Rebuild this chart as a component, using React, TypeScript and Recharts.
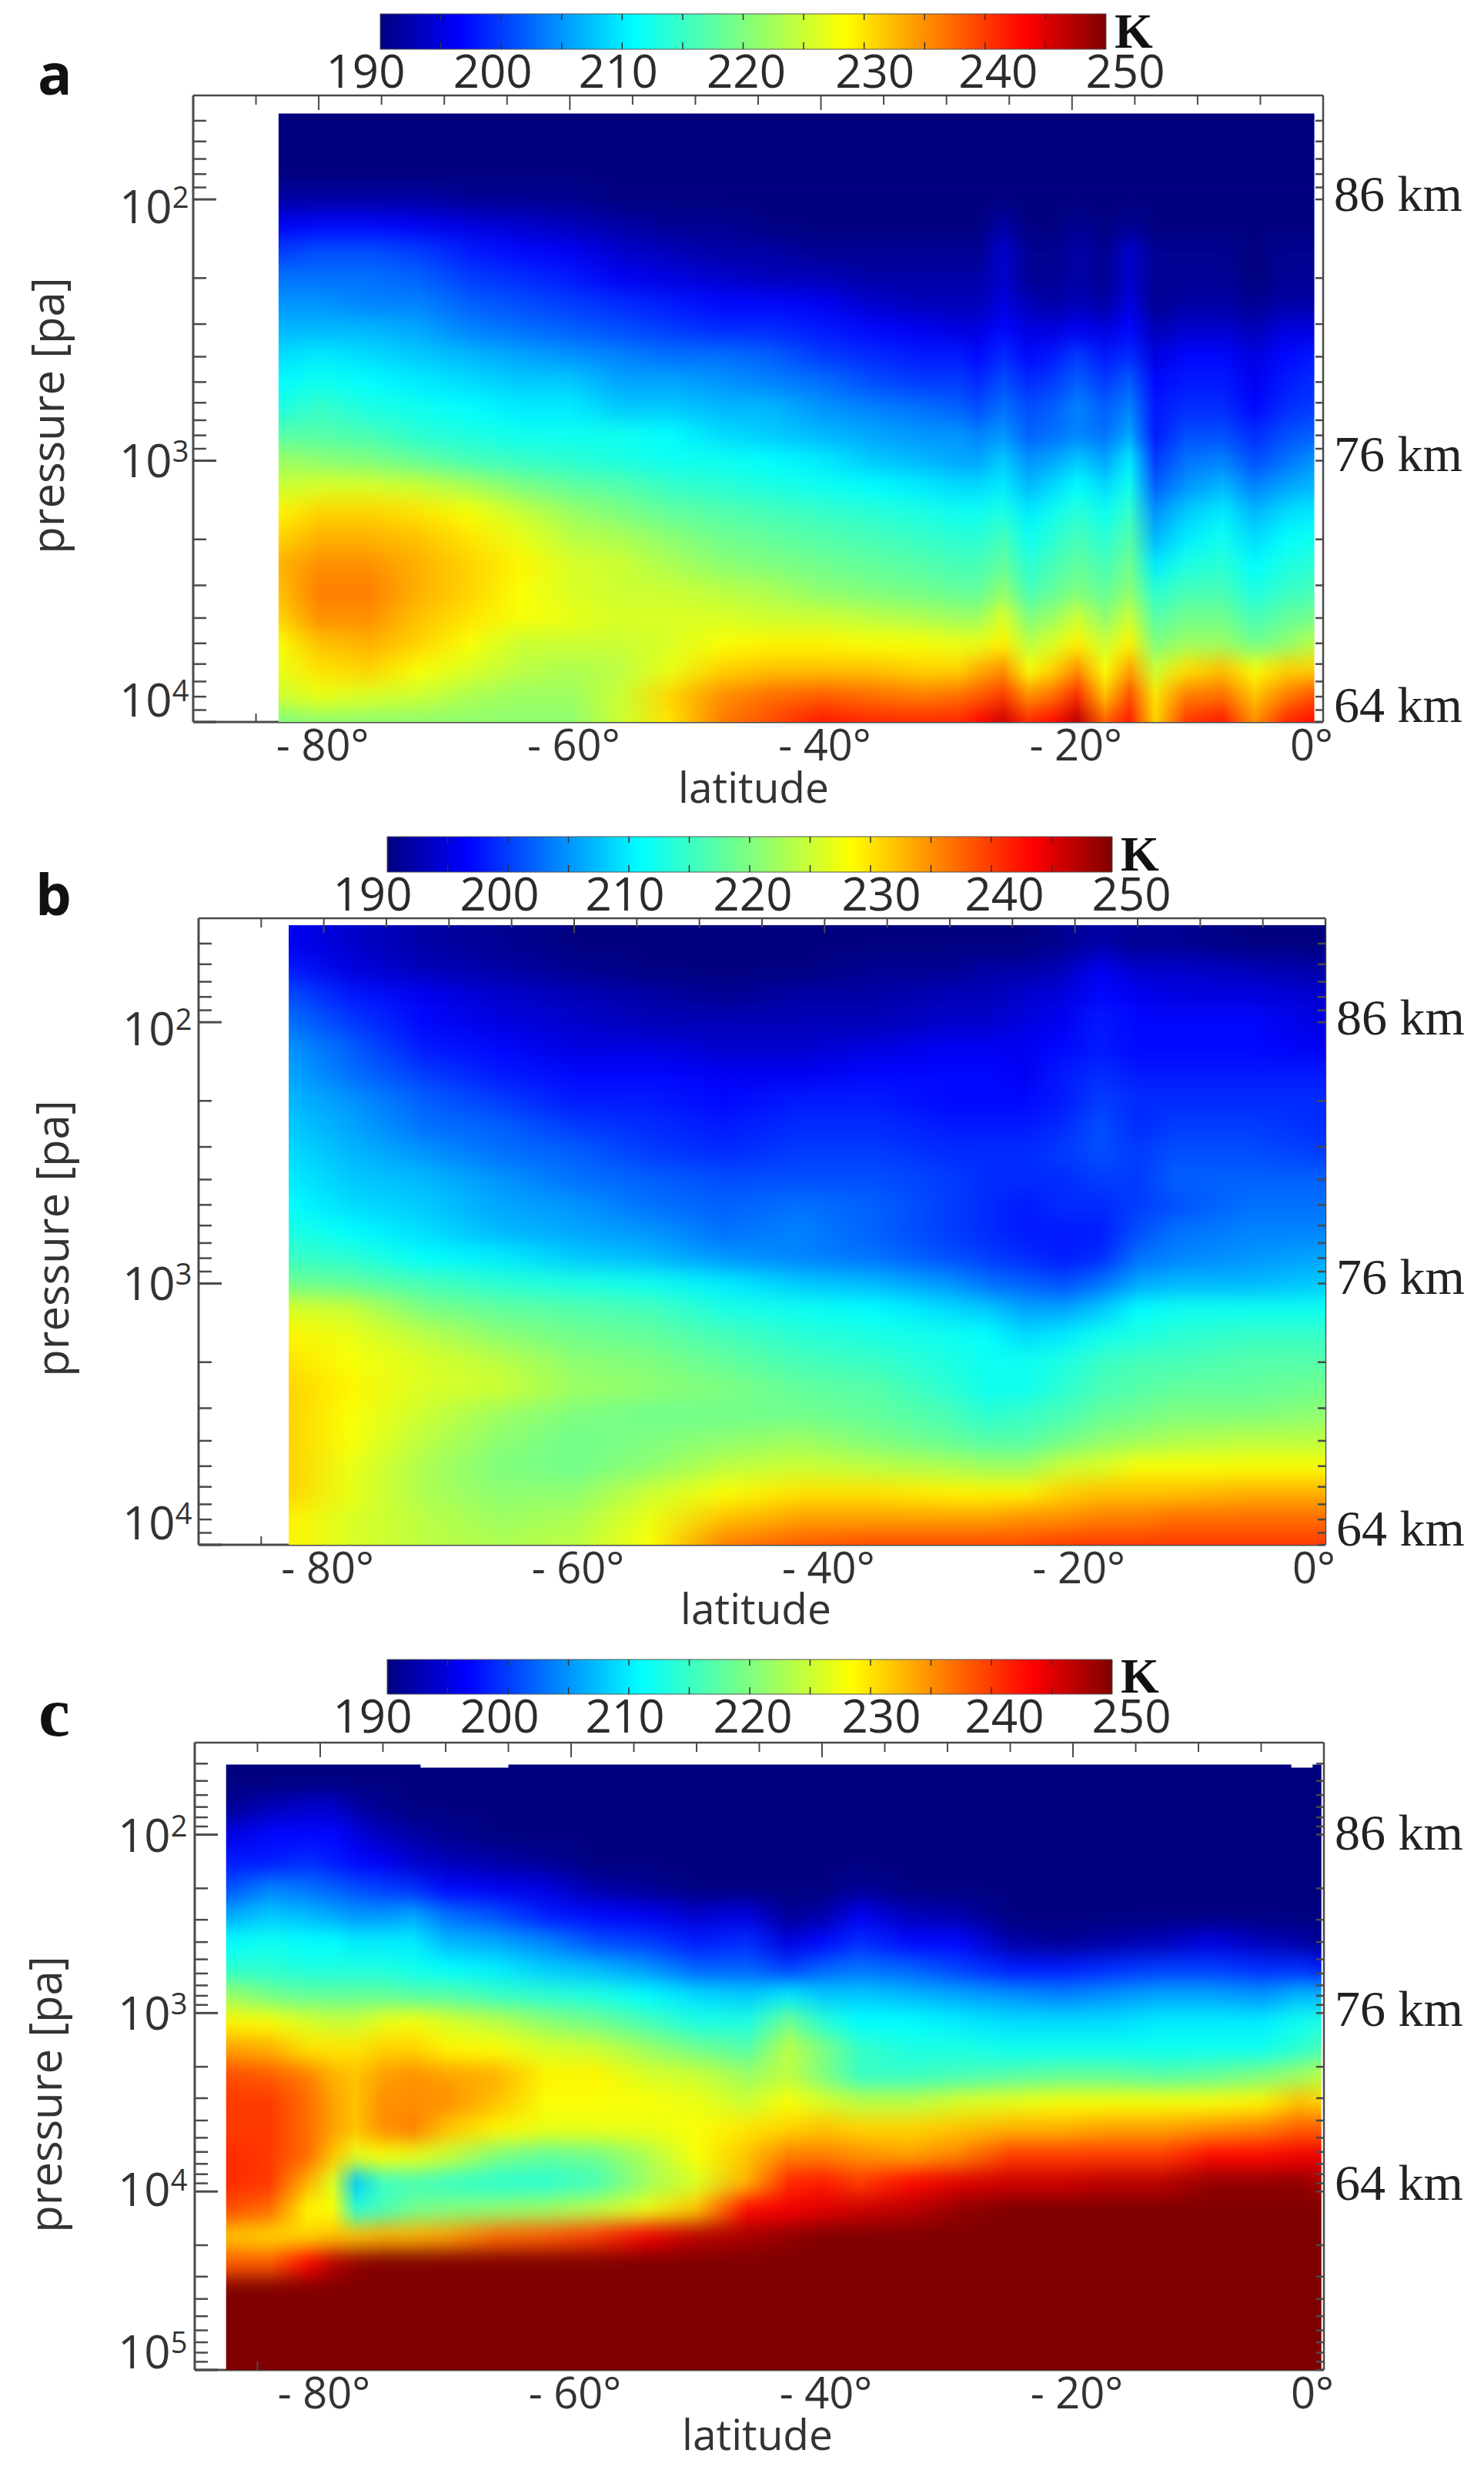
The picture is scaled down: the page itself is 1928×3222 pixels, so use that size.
import { ComposedChart, ReferenceArea, Scatter, ScatterChart, XAxis, YAxis } from "recharts";

// ---------------------------------------------------------------------------
// Data: temperature in K, rows by pressure, cols by latitude
// ---------------------------------------------------------------------------

const PRESSURE_ROWS_AB = [50, 63, 79, 100, 126, 158, 200, 251, 316, 398, 501, 631, 794, 1000, 1259, 1585, 1995, 2512, 3162, 3981, 5012, 6310, 7943, 10000];
const PRESSURE_ROWS_C = [50, 71, 100, 141, 200, 282, 398, 562, 794, 1122, 1585, 2239, 3162, 4467, 6310, 8913, 12589, 17783, 25119, 35481, 50119, 70795, 100000];

const LATS_A = [-83.2, -80, -76, -72, -68, -64, -60, -56, -52, -48, -44, -40, -36, -32, -29, -27.5, -25.5, -23.5, -21.5, -19.6, -17.4, -15.4, -13.4, -11, -8, -5.5, -3, -0.7];
const TEMPS_A = [
  [190, 190, 190, 190, 190, 190, 190, 190, 190, 190, 190, 190, 190, 190, 190, 190, 190, 190, 190, 190, 190, 190, 190, 190, 190, 190, 190, 190],
  [190, 190, 190, 190, 190, 190, 190, 190, 190, 190, 190, 190, 190, 190, 190, 190, 190, 190, 190, 190, 190, 190, 190, 190, 190, 190, 190, 190],
  [190, 190, 190, 190, 190, 190, 190, 190, 190, 190, 190, 190, 190, 190, 190, 190, 190, 190, 190, 190, 190, 190, 190, 190, 190, 190, 190, 190],
  [192, 192, 192, 192, 191, 191, 191, 190, 190, 190, 190, 190, 190, 190, 190, 190, 190, 190, 190, 190, 190, 190, 190, 190, 190, 190, 190, 190],
  [196, 197, 197, 196, 195, 194, 193, 192, 191, 191, 190, 190, 190, 190, 190, 190, 192, 190, 190, 191, 190, 191, 190, 190, 190, 190, 190, 190],
  [200, 201, 201, 200, 198, 197, 196, 194, 193, 192, 192, 191, 191, 191, 191, 191, 194, 191, 191, 192, 191, 194, 191, 191, 191, 190, 191, 191],
  [203, 203, 203, 202, 200, 199, 198, 196, 195, 194, 193, 193, 192, 192, 192, 192, 194, 191, 191, 192, 191, 194, 191, 191, 191, 190, 191, 191],
  [205, 205, 204, 204, 202, 201, 200, 199, 198, 197, 197, 196, 194, 193, 193, 193, 195, 193, 192, 193, 192, 195, 191, 192, 192, 191, 192, 192],
  [207, 207, 207, 206, 204, 203, 202, 201, 200, 199, 199, 198, 197, 196, 195, 195, 197, 195, 195, 196, 195, 197, 193, 194, 194, 193, 195, 195],
  [209, 210, 209, 208, 207, 206, 205, 204, 203, 203, 202, 200, 199, 198, 198, 197, 199, 197, 198, 200, 198, 199, 195, 197, 197, 195, 197, 198],
  [211, 212, 211, 210, 209, 208, 208, 206, 206, 205, 204, 203, 201, 200, 200, 199, 201, 199, 200, 202, 200, 202, 197, 198, 198, 196, 198, 199],
  [213, 215, 213, 212, 211, 210, 210, 208, 208, 207, 207, 205, 204, 203, 202, 201, 203, 201, 202, 204, 202, 204, 198, 199, 199, 197, 199, 200],
  [217, 217, 216, 214, 213, 212, 212, 212, 211, 209, 208, 207, 206, 205, 205, 204, 205, 202, 203, 204, 203, 206, 198, 201, 201, 199, 201, 202],
  [222, 221, 220, 218, 216, 215, 214, 213, 212, 212, 211, 210, 208, 207, 206, 206, 208, 205, 206, 208, 206, 210, 200, 203, 204, 201, 203, 205],
  [225, 226, 226, 225, 223, 220, 218, 217, 215, 214, 213, 212, 211, 210, 209, 209, 210, 207, 209, 211, 209, 212, 202, 205, 207, 204, 206, 207],
  [229, 231, 231, 230, 228, 225, 222, 220, 218, 217, 216, 215, 214, 213, 212, 212, 213, 210, 212, 214, 212, 215, 205, 208, 210, 207, 209, 210],
  [231, 233, 233, 232, 230, 227, 224, 223, 221, 219, 218, 217, 216, 215, 214, 214, 216, 212, 214, 216, 214, 217, 207, 210, 212, 209, 211, 212],
  [233, 235, 235, 233, 231, 229, 226, 225, 223, 221, 220, 219, 218, 217, 216, 216, 218, 214, 216, 218, 216, 219, 210, 213, 214, 211, 213, 214],
  [232, 236, 236, 233, 231, 228, 226, 225, 225, 224, 223, 221, 220, 219, 218, 218, 221, 216, 218, 220, 218, 221, 214, 216, 216, 213, 215, 216],
  [231, 235, 235, 232, 230, 228, 227, 226, 226, 226, 225, 225, 224, 223, 222, 222, 226, 220, 222, 225, 221, 225, 217, 219, 219, 216, 218, 219],
  [228, 232, 233, 231, 228, 225, 225, 225, 226, 228, 229, 229, 228, 228, 227, 227, 229, 224, 226, 229, 225, 229, 220, 222, 222, 219, 221, 224],
  [227, 230, 231, 228, 226, 224, 223, 224, 227, 231, 232, 232, 232, 231, 231, 233, 235, 228, 231, 235, 228, 234, 225, 230, 232, 228, 231, 231],
  [225, 227, 226, 225, 223, 222, 222, 225, 231, 235, 237, 238, 237, 236, 237, 238, 240, 235, 237, 241, 232, 239, 230, 236, 237, 232, 236, 239],
  [220, 221, 221, 221, 221, 221, 221, 225, 230, 236, 239, 242, 241, 241, 241, 243, 246, 241, 243, 247, 238, 242, 231, 240, 242, 235, 241, 243],
];

const LATS_B = [-82.8, -78, -72, -66, -60, -54, -48, -42, -36, -30, -27, -24, -21, -18, -15, -12, -6, 0];
const TEMPS_B = [
  [196, 194, 192, 191, 190, 190, 190, 190, 190, 190, 190, 190, 191, 192, 191, 191, 190, 190],
  [198, 195, 193, 192, 191, 190, 190, 190, 191, 191, 192, 192, 193, 196, 194, 194, 193, 192],
  [201, 198, 196, 194, 193, 192, 191, 192, 192, 193, 193, 194, 195, 197, 196, 195, 195, 194],
  [203, 200, 197, 195, 194, 193, 193, 193, 193, 194, 194, 195, 196, 198, 197, 197, 197, 195],
  [205, 202, 198, 197, 195, 195, 194, 194, 195, 196, 196, 196, 197, 198, 197, 197, 197, 196],
  [206, 203, 200, 198, 197, 197, 196, 196, 197, 197, 197, 196, 198, 199, 198, 198, 198, 198],
  [207, 205, 202, 200, 198, 198, 197, 198, 198, 197, 197, 197, 198, 200, 199, 199, 199, 199],
  [208, 206, 203, 202, 200, 199, 198, 199, 199, 198, 198, 198, 199, 201, 199, 200, 200, 199],
  [209, 207, 205, 203, 202, 200, 199, 200, 200, 199, 199, 199, 200, 201, 200, 201, 201, 200],
  [210, 208, 207, 205, 203, 202, 201, 201, 201, 200, 199, 199, 199, 200, 200, 202, 202, 202],
  [211, 209, 208, 206, 205, 203, 202, 203, 202, 200, 199, 198, 199, 199, 200, 201, 203, 203],
  [213, 211, 209, 207, 206, 205, 203, 204, 202, 200, 199, 198, 198, 198, 201, 203, 204, 204],
  [215, 214, 211, 210, 208, 207, 205, 204, 203, 201, 200, 199, 198, 199, 203, 204, 205, 206],
  [219, 218, 216, 214, 213, 212, 210, 208, 207, 205, 203, 202, 201, 203, 206, 207, 207, 208],
  [226, 225, 220, 218, 217, 216, 213, 212, 211, 209, 208, 206, 206, 208, 211, 212, 212, 212],
  [229, 227, 224, 221, 219, 218, 216, 214, 213, 212, 211, 209, 210, 212, 213, 214, 215, 215],
  [230, 228, 226, 224, 221, 220, 218, 216, 215, 213, 212, 212, 213, 215, 216, 216, 217, 217],
  [231, 229, 226, 225, 222, 221, 220, 218, 217, 214, 212, 212, 214, 216, 217, 218, 218, 219],
  [231, 228, 225, 222, 220, 219, 219, 219, 218, 216, 214, 215, 216, 218, 219, 220, 220, 221],
  [231, 228, 224, 221, 219, 220, 221, 222, 220, 218, 217, 217, 219, 221, 222, 223, 224, 224],
  [231, 227, 223, 220, 219, 221, 224, 225, 224, 223, 222, 222, 225, 226, 228, 228, 228, 228],
  [231, 227, 223, 221, 221, 225, 228, 230, 230, 229, 229, 229, 231, 232, 232, 232, 233, 233],
  [229, 226, 224, 222, 223, 227, 232, 234, 234, 234, 234, 235, 235, 236, 236, 237, 237, 237],
  [229, 226, 224, 223, 224, 228, 236, 238, 239, 239, 239, 239, 240, 240, 240, 240, 240, 240],
];

const LATS_C = [-87.5, -84, -81, -79, -77.2, -75, -72.6, -70, -66, -62, -58, -54, -50, -46, -42.7, -40, -37, -33, -29, -25, -21, -17, -13, -9, -5, -2, -0.2];
const TEMPS_C = [
  [190, 190, 190, 190, 190, 190, 190, 190, 190, 190, 190, 190, 190, 190, 190, 190, 190, 190, 190, 190, 190, 190, 190, 190, 190, 190, 190],
  [191, 193, 194, 194, 192, 191, 190, 190, 190, 190, 190, 190, 190, 190, 190, 190, 190, 190, 190, 190, 190, 190, 190, 190, 190, 190, 190],
  [195, 197, 197, 197, 195, 193, 192, 191, 190, 190, 190, 190, 190, 190, 190, 190, 190, 190, 190, 190, 190, 190, 190, 190, 190, 190, 190],
  [198, 198, 199, 198, 197, 196, 194, 193, 192, 191, 190, 190, 190, 190, 190, 190, 190, 190, 190, 190, 190, 190, 190, 190, 190, 190, 190],
  [201, 204, 203, 202, 201, 200, 199, 197, 196, 195, 192, 191, 190, 190, 190, 190, 191, 190, 190, 190, 190, 190, 190, 190, 190, 190, 190],
  [206, 208, 207, 206, 205, 205, 206, 203, 201, 198, 197, 196, 194, 195, 191, 192, 196, 193, 192, 190, 190, 190, 190, 190, 190, 190, 190],
  [211, 212, 211, 211, 210, 210, 210, 207, 206, 204, 201, 200, 198, 199, 195, 197, 199, 197, 197, 192, 191, 192, 193, 195, 193, 192, 191],
  [214, 214, 213, 213, 213, 213, 212, 211, 210, 208, 207, 205, 202, 202, 200, 202, 203, 202, 200, 198, 198, 199, 200, 200, 199, 199, 198],
  [222, 219, 218, 218, 218, 218, 217, 217, 215, 214, 213, 211, 209, 208, 210, 208, 208, 207, 206, 205, 204, 205, 206, 206, 205, 207, 207],
  [229, 228, 226, 225, 225, 227, 228, 226, 224, 221, 219, 216, 213, 213, 219, 214, 211, 211, 210, 209, 209, 209, 210, 210, 210, 212, 213],
  [234, 233, 230, 230, 230, 231, 231, 229, 228, 226, 225, 222, 219, 217, 224, 220, 215, 213, 213, 212, 212, 212, 212, 212, 212, 214, 216],
  [239, 238, 236, 233, 232, 234, 235, 234, 233, 229, 229, 226, 225, 222, 224, 220, 215, 215, 216, 217, 218, 218, 217, 218, 220, 222, 224],
  [240, 240, 237, 234, 232, 235, 235, 235, 232, 228, 228, 228, 227, 225, 228, 226, 224, 224, 226, 227, 228, 228, 228, 228, 229, 232, 231],
  [240, 240, 237, 234, 232, 235, 236, 232, 229, 227, 227, 227, 228, 230, 231, 232, 231, 231, 232, 233, 233, 234, 234, 235, 236, 238, 238],
  [241, 240, 237, 232, 227, 228, 227, 225, 220, 218, 219, 223, 228, 232, 236, 236, 235, 234, 236, 240, 240, 240, 240, 243, 243, 244, 244],
  [241, 240, 233, 226, 208, 215, 216, 215, 214, 214, 216, 222, 226, 233, 241, 242, 240, 243, 245, 246, 246, 247, 247, 249, 249, 249, 248],
  [239, 237, 229, 228, 214, 216, 219, 220, 221, 222, 224, 227, 232, 243, 244, 245, 246, 247, 249, 250, 250, 250, 250, 250, 250, 250, 250],
  [232, 231, 231, 232, 232, 233, 233, 234, 237, 238, 240, 244, 247, 248, 249, 250, 250, 250, 250, 250, 250, 250, 250, 250, 250, 250, 250],
  [238, 238, 243, 247, 249, 250, 250, 250, 250, 250, 250, 250, 250, 250, 250, 250, 250, 250, 250, 250, 250, 250, 250, 250, 250, 250, 250],
  [250, 250, 250, 250, 250, 250, 250, 250, 250, 250, 250, 250, 250, 250, 250, 250, 250, 250, 250, 250, 250, 250, 250, 250, 250, 250, 250],
  [250, 250, 250, 250, 250, 250, 250, 250, 250, 250, 250, 250, 250, 250, 250, 250, 250, 250, 250, 250, 250, 250, 250, 250, 250, 250, 250],
  [250, 250, 250, 250, 250, 250, 250, 250, 250, 250, 250, 250, 250, 250, 250, 250, 250, 250, 250, 250, 250, 250, 250, 250, 250, 250, 250],
  [250, 250, 250, 250, 250, 250, 250, 250, 250, 250, 250, 250, 250, 250, 250, 250, 250, 250, 250, 250, 250, 250, 250, 250, 250, 250, 250],
];

const PRESSURE_TICKS_AB = [50, 60, 70, 80, 90, 100, 200, 300, 400, 500, 600, 700, 800, 900, 1000, 2000, 3000, 4000, 5000, 6000, 7000, 8000, 9000, 10000];
const PRESSURE_TICKS_C = [40, 50, 60, 70, 80, 90, 100, 200, 300, 400, 500, 600, 700, 800, 900, 1000, 2000, 3000, 4000, 5000, 6000, 7000, 8000, 9000, 10000, 20000, 30000, 40000, 50000, 60000, 70000, 80000, 90000, 100000];
const LAT_TICKS_TOP = [-85, -80, -75, -70, -65, -60, -55, -50, -45, -40, -35, -30, -25, -20, -15, -10, -5];
const LAT_TICKS_BOTTOM = [-85, -80, -60, -40, -20, 0];
const BAR_TICKS = [190, 195, 200, 205, 210, 215, 220, 225, 230, 235, 240, 245, 250];
const KM_LABELS = ["86 km", "76 km", "64 km"];

// ---------------------------------------------------------------------------
// Colour map
// ---------------------------------------------------------------------------

const JET_STOPS: [number, number[]][] = [
  [0, [0, 0, 127]],
  [0.11, [0, 0, 255]],
  [0.35, [0, 255, 255]],
  [0.5, [127, 255, 127]],
  [0.64, [255, 255, 0]],
  [0.89, [255, 0, 0]],
  [1, [127, 0, 0]],
];

function jet(temp: number) {
  const f = Math.min(1, Math.max(0, (temp - 190) / 60));
  for (let i = 1; i < JET_STOPS.length; i++) {
    const [f1, c1] = JET_STOPS[i];
    const [f0, c0] = JET_STOPS[i - 1];
    if (f <= f1) {
      const k = (f - f0) / (f1 - f0);
      const c = c0.map((v, n) => Math.round(v + (c1[n] - v) * k));
      return `rgb(${c[0]},${c[1]},${c[2]})`;
    }
  }
  return "rgb(127,0,0)";
}

// ---------------------------------------------------------------------------
// Panel layout (page pixels)
// ---------------------------------------------------------------------------

const SANS = "'Open Sans', sans-serif";
const SERIF = "'Liberation Serif', serif";
const INK = "#333";
const AXIS = "#4a4a4a";

const PANELS = [
  {
    id: "a",
    lats: LATS_A,
    temps: TEMPS_A,
    rows: PRESSURE_ROWS_AB,
    rowDecades: 0.1,
    ticks: PRESSURE_TICKS_AB,
    pDomain: [40, 10000],
    pTop: 46.9,
    notches: [] as number[][],
    frame: { left: 251, right: 1719, top: 124, bottom: 938 },
    bar: { left: 494, right: 1437, top: 18, bottom: 64 },
    kmTicks: [96, 950, 8673],
    majors: { 100: 9, 1000: -1, 10000: -29 } as Record<number, number>,
    exponentLeft: 155,
    letter: { text: "a", x: 49, y: 123, size: 74, font: SANS },
    pressureLabel: { x: 83, y: 540 },
    latitudeLabel: { x: 979, y: 1043 },
  },
  {
    id: "b",
    lats: LATS_B,
    temps: TEMPS_B,
    rows: PRESSURE_ROWS_AB,
    rowDecades: 0.1,
    ticks: PRESSURE_TICKS_AB,
    pDomain: [40, 10000],
    pTop: 42.5,
    notches: [] as number[][],
    frame: { left: 258, right: 1722, top: 1193, bottom: 2007 },
    bar: { left: 503, right: 1445, top: 1087, bottom: 1133 },
    kmTicks: [96.3, 951, 8730],
    majors: { 100: 8, 1000: -1, 10000: -29 } as Record<number, number>,
    exponentLeft: 159,
    letter: { text: "b", x: 46, y: 1189, size: 74, font: SANS },
    pressureLabel: { x: 89, y: 1609 },
    latitudeLabel: { x: 982, y: 2110 },
  },
  {
    id: "c",
    lats: LATS_C,
    temps: TEMPS_C,
    rows: PRESSURE_ROWS_C,
    rowDecades: 0.15,
    ticks: PRESSURE_TICKS_C,
    pDomain: [30.5, 100000],
    pTop: 40.5,
    notches: [[-72, -65], [-2.6, -0.9]],
    frame: { left: 253, right: 1720, top: 2264, bottom: 3079 },
    bar: { left: 503, right: 1445, top: 2156, bottom: 2201 },
    kmTicks: [98.5, 957, 9036],
    majors: { 100: 0, 1000: 0, 10000: -3, 100000: -24 } as Record<number, number>,
    exponentLeft: 153,
    letter: { text: "c", x: 50, y: 2255, size: 92, font: SERIF },
    pressureLabel: { x: 80, y: 2721 },
    latitudeLabel: { x: 984, y: 3183 },
  },
];

type Panel = (typeof PANELS)[number];

// ---------------------------------------------------------------------------
// Heat map
// ---------------------------------------------------------------------------

function heatData(panel: Panel) {
  return panel.temps.flatMap((row, r) =>
    row.map((t, c) => ({
      lat: panel.lats[c],
      latNext: panel.lats[c + 1],
      p: panel.rows[r],
      t,
      tNext: row[c + 1],
      r,
      c,
    }))
  );
}

function HeatCell({ cx, cy, payload, panel }: any) {
  if (payload.latNext === undefined) return null;
  const { frame, pDomain } = panel;
  const pxPerDeg = (frame.right - frame.left) / 90;
  const decadePx = (frame.bottom - frame.top) / Math.log10(pDomain[1] / pDomain[0]);
  const rowPx = decadePx * panel.rowDecades;
  const first = payload.r === 0;
  const last = payload.r === panel.rows.length - 1;
  const top = cy - rowPx / 2 - (first ? 90 : 0);
  const bottom = cy + rowPx / 2 + (last ? 90 : 1);
  const id = `cell-${panel.id}-${payload.r}-${payload.c}`;
  return (
    <g>
      <linearGradient id={id}>
        <stop offset="0" stopColor={jet(payload.t)} />
        <stop offset="1" stopColor={jet(payload.tNext)} />
      </linearGradient>
      <rect
        x={Math.floor(cx)}
        y={top}
        width={Math.ceil((payload.latNext - payload.lat) * pxPerDeg) + 1}
        height={bottom - top}
        fill={`url(#${id})`}
      />
    </g>
  );
}

// ---------------------------------------------------------------------------
// Tick renderers
// ---------------------------------------------------------------------------

function LeftTick({ x, y, payload, panel }: any) {
  const p = payload.value;
  const offset = panel.majors[p];
  const major = offset !== undefined;
  return (
    <g>
      <line x1={x} x2={x + (major ? 30 : 17)} y1={y} y2={y} stroke={AXIS} strokeWidth={major ? 3 : 2.5} />
      {major && (
        <text x={panel.exponentLeft} y={y + offset + 22} fontFamily={SANS} fontSize={60} fill={INK}>
          10
          <tspan fontSize={38} dy={-20}>
            {Math.round(Math.log10(p))}
          </tspan>
        </text>
      )}
    </g>
  );
}

function RightTick({ x, y, payload, panel }: any) {
  const p = payload.value;
  const km = panel.kmTicks.indexOf(p);
  if (km >= 0) {
    return (
      <text x={x + 14} y={y + 21} fontFamily={SERIF} fontSize={66} fill="#222">
        {KM_LABELS[km]}
      </text>
    );
  }
  return <line x1={x} x2={x - 10} y1={y} y2={y} stroke={AXIS} strokeWidth={2.5} />;
}

function TopTick({ x, y, payload }: any) {
  const long = payload.value % 20 === 0;
  return <line x1={x} x2={x} y1={y} y2={y + (long ? 19 : 12)} stroke={AXIS} strokeWidth={2} />;
}

function BottomTick({ x, y, payload }: any) {
  const lat = payload.value;
  if (lat === -85) return <line x1={x} x2={x} y1={y} y2={y - 11} stroke={AXIS} strokeWidth={2} />;
  const text = lat === 0 ? "0°" : `- ${-lat}°`;
  return (
    <text x={lat === 0 ? x - 15 : x + 5} y={y + 50} textAnchor="middle" fontFamily={SANS} fontSize={56} fill={INK}>
      {text}
    </text>
  );
}

const BAR_LABEL_SHIFT: Record<number, number> = { 190: -19, 200: -11, 210: -5, 220: 4, 230: 14, 240: 17, 250: 25 };

function BarTick({ x, y, payload, barHeight }: any) {
  const t = payload.value;
  const shift = BAR_LABEL_SHIFT[t];
  return (
    <g>
      {t > 190 && t < 250 && (
        <>
          <line x1={x} x2={x} y1={y} y2={y - 9} stroke="#333" strokeWidth={1.5} />
          <line x1={x} x2={x} y1={y - barHeight} y2={y - barHeight + 8} stroke="#333" strokeWidth={1.5} />
        </>
      )}
      {shift !== undefined && (
        <text x={x + shift} y={y + 50} textAnchor="middle" fontFamily={SANS} fontSize={60} fill="#2b2b2b">
          {t}
        </text>
      )}
    </g>
  );
}

// ---------------------------------------------------------------------------
// Panels
// ---------------------------------------------------------------------------

function ColorBar({ panel }: { panel: Panel }) {
  const { bar, id } = panel;
  return (
    <div style={{ position: "absolute", left: 0, top: 0 }}>
      <ComposedChart
        width={1928}
        height={bar.bottom + 70}
        margin={{ top: bar.top, left: bar.left, right: 1928 - bar.right, bottom: 0 }}
      >
        <defs>
          <linearGradient id={`jet-${id}`}>
            {JET_STOPS.map(([f, c]) => (
              <stop key={f} offset={f} stopColor={`rgb(${c[0]},${c[1]},${c[2]})`} />
            ))}
          </linearGradient>
        </defs>
        <XAxis
          xAxisId="t"
          type="number"
          dataKey="t"
          domain={[190, 250]}
          ticks={BAR_TICKS}
          interval={0}
          height={70}
          tickSize={0}
          tickMargin={0}
          axisLine={false}
          tick={(props: any) => <BarTick {...props} barHeight={bar.bottom - bar.top} />}
        />
        <YAxis yAxisId="v" hide type="number" dataKey="v" domain={[0, 1]} />
        <Scatter
          xAxisId="t"
          yAxisId="v"
          data={[
            { t: 190, v: 0 },
            { t: 250, v: 1 },
          ]}
          isAnimationActive={false}
          shape={() => null}
        />
        <ReferenceArea
          xAxisId="t"
          yAxisId="v"
          x1={190}
          x2={250}
          y1={0}
          y2={1}
          fill={`url(#jet-${id})`}
          fillOpacity={1}
          stroke="#555"
          strokeWidth={1}
          ifOverflow="visible"
        />
        <text x={bar.right + 11} y={bar.bottom - 2} fontFamily={SERIF} fontWeight={700} fontSize={64} fill="#111">
          K
        </text>
      </ComposedChart>
    </div>
  );
}

function HeatPanel({ panel }: { panel: Panel }) {
  const { frame, pDomain, lats, id, letter, pressureLabel, latitudeLabel } = panel;
  const xOf = (lat: number) => frame.left + ((lat + 90) / 90) * (frame.right - frame.left);
  const yOf = (p: number) =>
    frame.top + (Math.log10(p / pDomain[0]) / Math.log10(pDomain[1] / pDomain[0])) * (frame.bottom - frame.top);
  const clipLeft = xOf(lats[0]);
  const clipRight = xOf(lats[lats.length - 1]);
  const clipTop = yOf(panel.pTop);
  const data = heatData(panel);
  const axisLine = { stroke: AXIS, strokeWidth: 3 };
  const frameLine = { stroke: AXIS, strokeWidth: 2.5 };

  // The top edge of the field has small gaps in panel c
  const edges = [lats[0], ...panel.notches.flat(), lats[lats.length - 1]];
  const topPieces: number[][] = [];
  for (let i = 0; i < edges.length; i += 2) topPieces.push([edges[i], edges[i + 1]]);

  return (
    <div className={`heat-${id}`} style={{ position: "absolute", left: 0, top: 0 }}>
      <style>{`.heat-${id} .recharts-scatter{filter:url(#blur-${id});clip-path:url(#clip-${id});}`}</style>
      <ScatterChart
        width={1928}
        height={frame.bottom + 120}
        margin={{ top: frame.top - 1, left: 0, right: 0, bottom: 0 }}
      >
        <defs>
          <filter id={`blur-${id}`} x="0" y="-10%" width="100%" height="120%" colorInterpolationFilters="sRGB">
            <feGaussianBlur stdDeviation="0 13" />
          </filter>
          <clipPath id={`clip-${id}`} clipPathUnits="userSpaceOnUse">
            <rect x={clipLeft} y={clipTop + 4} width={clipRight - clipLeft} height={frame.bottom - clipTop - 4} />
            {topPieces.map(([a, b]) => (
              <rect key={a} x={xOf(a)} y={clipTop} width={xOf(b) - xOf(a)} height={5} />
            ))}
          </clipPath>
        </defs>
        <XAxis
          xAxisId="lat"
          type="number"
          dataKey="lat"
          domain={[-90, 0]}
          ticks={LAT_TICKS_BOTTOM}
          interval={0}
          height={120}
          tickSize={0}
          tickMargin={0}
          axisLine={axisLine}
          tick={<BottomTick />}
        />
        <XAxis
          xAxisId="top"
          orientation="top"
          type="number"
          dataKey="lat"
          domain={[-90, 0]}
          ticks={LAT_TICKS_TOP}
          interval={0}
          height={1}
          tickSize={0}
          tickMargin={0}
          axisLine={frameLine}
          tick={<TopTick />}
        />
        <YAxis
          yAxisId="p"
          type="number"
          dataKey="p"
          scale="log"
          reversed
          domain={pDomain}
          ticks={panel.ticks}
          interval={0}
          width={frame.left}
          tickSize={0}
          tickMargin={0}
          axisLine={axisLine}
          tick={(props: any) => <LeftTick {...props} panel={panel} />}
        />
        <YAxis
          yAxisId="right"
          orientation="right"
          type="number"
          dataKey="p"
          scale="log"
          reversed
          domain={pDomain}
          ticks={[...panel.ticks, ...panel.kmTicks]}
          interval={0}
          width={1928 - frame.right}
          tickSize={0}
          tickMargin={0}
          axisLine={frameLine}
          tick={(props: any) => <RightTick {...props} panel={panel} />}
        />
        <Scatter
          xAxisId="top"
          yAxisId="right"
          data={[
            { lat: -90, p: pDomain[0] },
            { lat: 0, p: pDomain[1] },
          ]}
          isAnimationActive={false}
          shape={() => null}
        />
        <Scatter
          xAxisId="lat"
          yAxisId="p"
          data={data}
          isAnimationActive={false}
          shape={(props: any) => <HeatCell {...props} panel={panel} />}
        />
        <text x={letter.x} y={letter.y} fontFamily={letter.font} fontWeight={700} fontSize={letter.size} fill="#111">
          {letter.text}
        </text>
        <text
          transform={`translate(${pressureLabel.x},${pressureLabel.y}) rotate(-90)`}
          textAnchor="middle"
          fontFamily={SANS}
          fontSize={58}
          fill={INK}
        >
          pressure [pa]
        </text>
        <text x={latitudeLabel.x} y={latitudeLabel.y} textAnchor="middle" fontFamily={SANS} fontSize={55} fill={INK}>
          latitude
        </text>
      </ScatterChart>
    </div>
  );
}

export default function App() {
  return (
    <div style={{ position: "absolute", left: 0, top: 0, width: 1928, height: 3222, background: "#fff", overflow: "hidden" }}>
      {PANELS.map((panel) => (
        <div key={panel.id}>
          <HeatPanel panel={panel} />
          <ColorBar panel={panel} />
        </div>
      ))}
    </div>
  );
}
